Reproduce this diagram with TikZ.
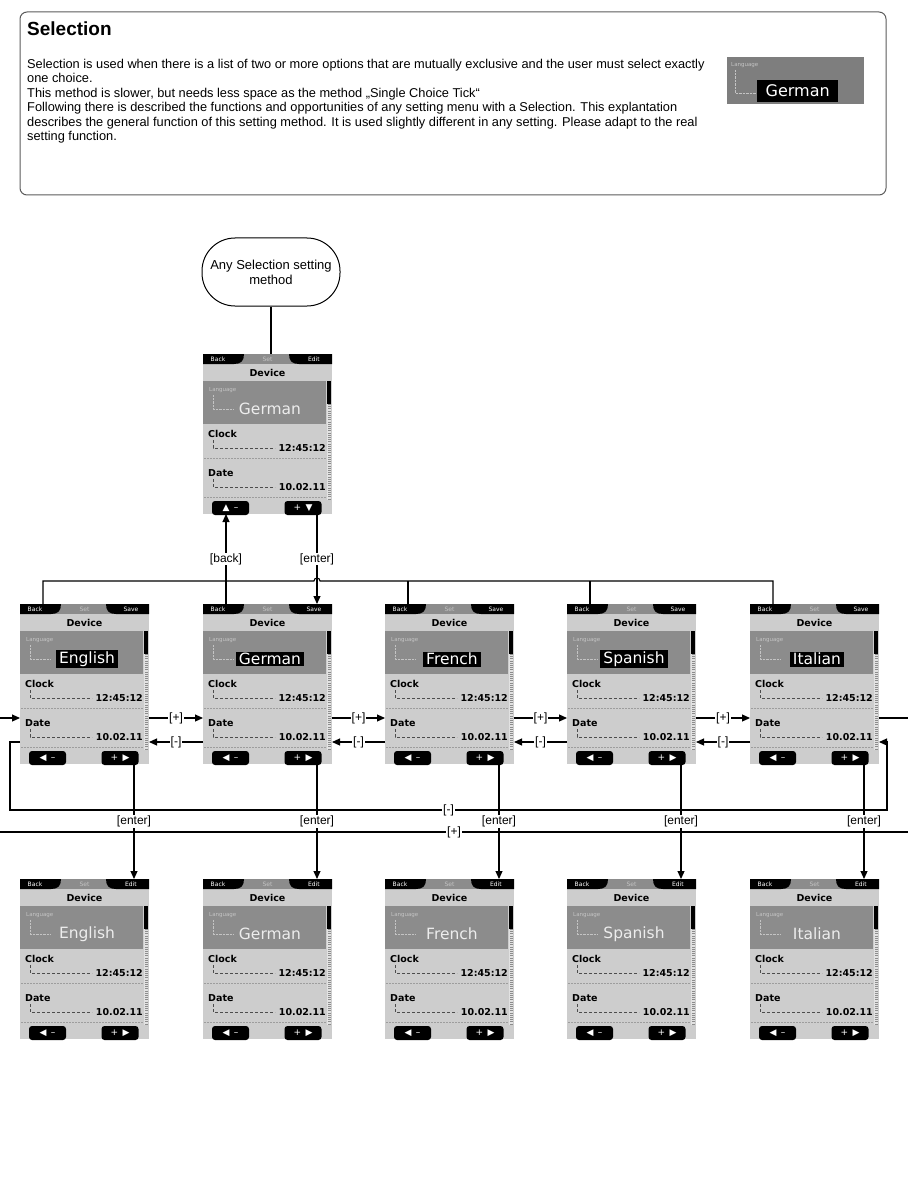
\documentclass[tikz,border=0pt]{standalone}
\usepackage{fontspec}
\setmainfont{Liberation Sans}
\newfontfamily\lcdfont{DejaVu Sans}
\usetikzlibrary{arrows.meta,positioning,calc}
\definecolor{lcdbg}{HTML}{CDCDCD}
\definecolor{lcdmid}{HTML}{8C8C8C}
\definecolor{lcdlight}{HTML}{C4C4C4}
\definecolor{lcdpale}{HTML}{EDEDED}
\definecolor{lcdtrack}{HTML}{E2E2E2}
\definecolor{framegray}{HTML}{5A5A5A}
\tikzset{
  screenbox/.style={anchor=north west, fill=lcdbg, minimum width=129pt, minimum height=160pt, inner sep=0pt, outer sep=0pt},
  tabtext/.style={text=white, font=\lcdfont\fontsize{6}{6}\selectfont, inner sep=0pt},
  tinytext/.style={anchor=west, text=lcdlight, font=\lcdfont\fontsize{5.5}{6}\selectfont, inner sep=0pt},
  lcdbold/.style={font=\lcdfont\bfseries\fontsize{9.5}{10}\selectfont, inner sep=0pt},
  langsel/.style={fill=black, text=white, font=\lcdfont\fontsize{15.5}{15.5}\selectfont, inner xsep=3pt, inner ysep=1.5pt},
  langplain/.style={text=lcdpale, font=\lcdfont\fontsize{15.5}{15.5}\selectfont, inner sep=0pt},
  lcdkey/.style={fill=black, text=white, rounded corners=3pt, minimum width=37pt, minimum height=14pt, inner sep=0pt, font=\lcdfont\fontsize{9}{9}\selectfont},
  lcdline/.style={line width=0.5pt, densely dashed, black!70},
  lcdsep/.style={line width=0.5pt, dash pattern=on 2pt off 1pt, lcdlight!80!black},
  conn/.style={line width=1.1pt},
  flow/.style={conn, -{Triangle[length=8pt,width=7pt]}},
  lbl/.style={fill=white, inner sep=0.8pt, font=\fontsize{12}{12}\selectfont},
}
% Bildschirm: Name, Ecke oben links, rechte Taste oben, Sprache, Stil, Tasten unten
\newcommand{\devscreen}[7]{%
  \node[screenbox] (#1) at (#2) {};
  \begin{scope}[shift={(#1.north west)}]
    % Kopfzeile
    \fill[lcdmid] (0,0) rectangle (129,10);
    \fill (0,0) -- (41,0) .. controls (41,7) and (38,10) .. (31,10) -- (0,10) -- cycle;
    \fill (129,0) -- (86,0) .. controls (86,7) and (89,10) .. (96,10) -- (129,10) -- cycle;
    \node[tabtext] (#1-back-t) at (15,5) {Back};
    \node[tabtext, text=lcdlight] (#1-set-t) at (64.5,5) {Set};
    \node[tabtext] (#1-right-t) at (111,5) {#3};
    \node[lcdbold] (#1-title) at (64.5,19) {Device};
    % Sprache
    \fill[lcdmid] (0,27) rectangle (123,70);
    \node[tinytext] (#1-lang-t) at (6,36) {Language};
    \draw[lcdlight, densely dotted] (10,41) |- (30,55);
    \node[#5] (#1-lang) at (67,55) {#4};
    % Scrollbalken
    \fill[lcdtrack] (124,27) rectangle (128,146);
    \draw[lcdmid, line width=3pt, dash pattern=on 0.6pt off 1.6pt] (126,50) -- (126,146);
    \fill (124,27) rectangle (128,50);
    % Uhrzeit
    \node[lcdbold, anchor=west] (#1-clock) at (5,80) {Clock};
    \draw[lcdline] (10,86) |- (72,94);
    \node[lcdbold, anchor=east] (#1-clock-v) at (123,94) {12:45:12};
    \draw[lcdsep] (1,104) -- (123,104);
    % Datum
    \node[lcdbold, anchor=west] (#1-date) at (5,119) {Date};
    \draw[lcdline] (10,125) |- (72,133);
    \node[lcdbold, anchor=east] (#1-date-v) at (123,133) {10.02.11};
    \draw[lcdsep] (1,143) -- (123,143);
    % Tasten
    \node[lcdkey] (#1-lkey) at (27.5,154) {#6};
    \node[lcdkey] (#1-rkey) at (100,154) {#7};
    % Anschlusspunkte
    \coordinate (#1-tl) at (23,0);
    \coordinate (#1-tr) at (114,0);
    \coordinate (#1-bl) at (23,160);
    \coordinate (#1-br) at (114,160);
    \coordinate (#1-ea) at (129,114);
    \coordinate (#1-eb) at (129,138);
    \coordinate (#1-wa) at (0,114);
    \coordinate (#1-wb) at (0,138);
  \end{scope}
}

\begin{document}
\begin{tikzpicture}[x=1pt, y=-1pt]
  \useasboundingbox (0,0) rectangle (908,1198);

  % Beschreibung
  \draw[framegray, line width=1pt, rounded corners=7pt] (20,12) rectangle (886,195);
  \node[anchor=base west, inner sep=0pt, font=\bfseries\fontsize{19}{21}\selectfont] (title) at (27,36) {Selection};
  \node[anchor=north west, inner sep=0pt, align=left, font=\fontsize{12.8}{14.5}\selectfont] (intro) at (27,59)
    {Selection is used when there is a list of two or more options that are mutually exclusive and the user must select exactly\\
     one choice.\\
     This method is slower, but needs less space as the method „Single Choice Tick“\\
     Following there is described the functions and opportunities of any setting menu with a Selection. This explantation\\
     describes the general function of this setting method. It is used slightly different in any setting. Please adapt to the real\\
     setting function.};

  % Beispiel rechts
  \node[anchor=north west, fill=lcdmid!90!black, minimum width=137pt, minimum height=47pt, inner sep=0pt] (inset) at (727,57) {};
  \node[tinytext] (inset-t) at (731,65) {Language};
  \draw[lcdlight, densely dotted] (735,70) |- (757,93);
  \node[langsel, anchor=west, minimum width=81pt, minimum height=22pt, font=\lcdfont\fontsize{16}{16}\selectfont] (inset-lang) at (757,91) {German};

  % Start
  \node[draw, line width=1pt, rounded corners=33pt, minimum width=138pt, minimum height=68pt, align=center, font=\fontsize{13}{15}\selectfont] (start) at (271,272) {Any Selection setting\\method};

  % Bildschirme
  \devscreen{top}{203,354}{Edit}{German}{langplain}{▲\enspace–}{+\enspace▼}
  \foreach \n/\x/\l in {1/20/English, 2/203/German, 3/385/French, 4/567/Spanish, 5/750/Italian}{
    \devscreen{m\n}{\x,604}{Save}{\l}{langsel}{◀\enspace–}{+\enspace▶}
    \devscreen{b\n}{\x,879}{Edit}{\l}{langplain}{◀\enspace–}{+\enspace▶}
  }

  % Start -> Bildschirm
  \draw[conn] (start.south) -- (start.south |- top.north);

  % [back] / [enter]
  \coordinate (bus) at (0,581);
  \draw[flow] (m2-tl) -- node[lbl] (back-lbl) {[back]} (top-bl);
  \draw[flow] (top-br) -- node[lbl] (enter-lbl) {[enter]} (m2-tr);
  \draw[conn] (m1-tl) |- ($(top-br |- bus)+(-3,0)$) arc[start angle=180, end angle=360, radius=3] -| (m5-tl);
  \foreach \n in {3,4} \draw[conn] (m\n-tl) -- (m\n-tl |- bus);

  % [+] / [-]
  \foreach \a/\b in {1/2,2/3,3/4,4/5}{
    \draw[flow] (m\a-ea) -- node[lbl] (plus\a) {[+]} (m\b-wa);
    \draw[flow] (m\b-wb) -- node[lbl] (minus\a) {[-]} (m\a-eb);
  }

  % Umlauf [+]
  \coordinate (plus-out) at (908,718);
  \coordinate (plus-in) at (0,718);
  \coordinate (plus-l) at (0,832);
  \coordinate (plus-r) at (908,832);
  \draw[conn] (m5-ea) -- (plus-out);
  \draw[conn] (plus-l) -- node[lbl] (plus-wrap) {[+]} (plus-r);
  \draw[flow] (plus-in) -- (m1-wa);

  % Umlauf [-]
  \coordinate (minus-l) at (10,810);
  \coordinate (minus-r) at (887,810);
  \draw[flow] (m1-wb) -| (minus-l) -- node[lbl] (minus-wrap) {[-]} (minus-r) |- (m5-eb);

  % [enter] nach unten
  \foreach \n in {1,...,5}
    \draw[flow] (m\n-br) -- node[lbl] (enter\n) {[enter]} (b\n-tr);
\end{tikzpicture}
\end{document}
